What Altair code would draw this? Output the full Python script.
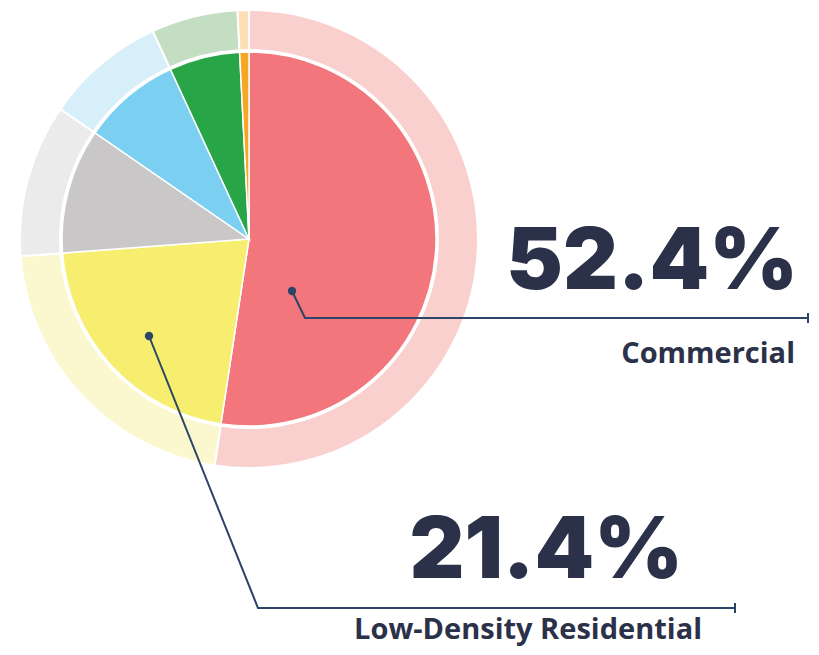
import altair as alt
import pandas as pd

# Data
categories = ["Commercial", "Low-Density Residential", "Industrial", "Public / Institutional", "Open Space", "Other"]
values = [52.4, 21.4, 10.8, 8.5, 6.1, 0.8]
inner_colors = ["#F2767B", "#F7EE6F", "#C9C7C8", "#7BD0F2", "#27A547", "#F6A623"]
outer_colors = ["#F9D0CE", "#FBF8D0", "#EBEBEB", "#D6EFF9", "#C3DEC2", "#FDDFB5"]

# Annotation lists
big_labels = ["52.4%", "21.4%"]
small_labels = ["Commercial", "Low-Density Residential"]

W, H = 803, 639
CX, CY = 241, 231

pie_df = pd.DataFrame({
    "category": categories,
    "value": values,
    "idx": list(range(len(categories))),
    "inner": inner_colors,
    "outer": outer_colors,
})

base = alt.Chart(pie_df).encode(
    theta=alt.Theta("value:Q", stack=True),
    order=alt.Order("idx:Q"),
    x=alt.value(CX),
    y=alt.value(CY),
)

outer_ring = base.mark_arc(radius=229, radius2=189, stroke="white", strokeWidth=2).encode(
    color=alt.Color("outer:N", scale=None)
)
inner_pie = base.mark_arc(radius=187, stroke="white", strokeWidth=1.5).encode(
    color=alt.Color("inner:N", scale=None)
)

xs = alt.Scale(domain=[0, W], nice=False, zero=False)
ys = alt.Scale(domain=[0, H], reverse=True, nice=False, zero=False)

# leader lines (annotation paths)
lead_df = pd.DataFrame({
    "label": ["Commercial"] * 3 + ["Low-Density Residential"] * 3,
    "step": [0, 1, 2, 0, 1, 2],
    "px": [284, 297, 800, 141, 250, 727],
    "py": [283, 310, 310, 328, 600, 600],
})
leaders = alt.Chart(lead_df).mark_line(color="#2C4468", strokeWidth=2).encode(
    x=alt.X("px:Q", scale=xs, axis=None),
    y=alt.Y("py:Q", scale=ys, axis=None),
    detail="label:N",
    order="step:Q",
)

dots_df = pd.DataFrame({"px": [284, 141], "py": [283, 328]})
dots = alt.Chart(dots_df).mark_circle(color="#2C4468", size=70, opacity=1).encode(
    x=alt.X("px:Q", scale=xs, axis=None),
    y=alt.Y("py:Q", scale=ys, axis=None),
)

ticks_df = pd.DataFrame({"px": [800, 727], "py": [305, 595], "py2": [315, 605]})
ticks = alt.Chart(ticks_df).mark_rule(color="#2C4468", strokeWidth=2).encode(
    x=alt.X("px:Q", scale=xs, axis=None),
    y=alt.Y("py:Q", scale=ys, axis=None),
    y2="py2:Q",
)

big_df = pd.DataFrame({"txt": big_labels, "px": [790, 675], "py": [281, 570]})
big_text = alt.Chart(big_df).mark_text(
    align="right", baseline="alphabetic", font="Inter", fontWeight=900, fontSize=85, color="#2B3149"
).encode(
    x=alt.X("px:Q", scale=xs, axis=None),
    y=alt.Y("py:Q", scale=ys, axis=None),
    text="txt:N",
)

small_df = pd.DataFrame({"txt": small_labels, "px": [787, 694], "py": [355, 631]})
small_text = alt.Chart(small_df).mark_text(
    align="right", baseline="alphabetic", font="Open Sans", fontWeight="bold", fontSize=29, color="#2B3149"
).encode(
    x=alt.X("px:Q", scale=xs, axis=None),
    y=alt.Y("py:Q", scale=ys, axis=None),
    text="txt:N",
)

chart = alt.layer(
    outer_ring, inner_pie, leaders, dots, ticks, big_text, small_text
).properties(
    width=W, height=H, autosize=alt.AutoSizeParams(type="none"), padding=0
).configure_view(stroke=None)

chart.save("out.html", embed_options={"renderer": "svg", "actions": False})
